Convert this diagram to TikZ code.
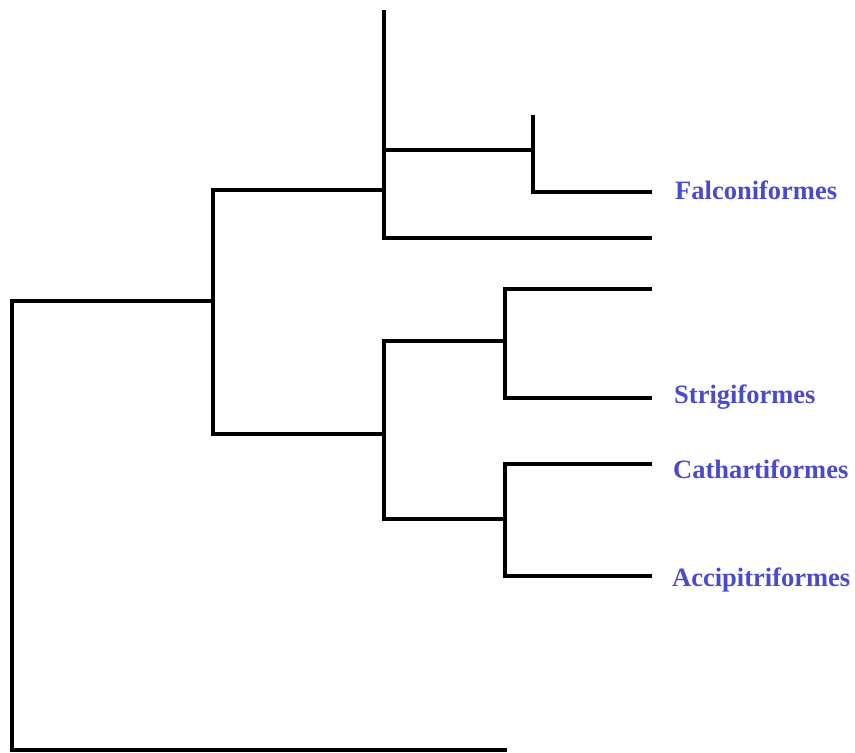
\documentclass[tikz,border=0pt]{standalone}
\usepackage{fontspec}
\setmainfont{Liberation Serif}
\definecolor{lbl}{HTML}{4A4ACC}
\begin{document}
\begin{tikzpicture}[x=1pt,y=-1pt,
  br/.style={line width=4.5pt,black,line join=miter},
  taxon/.style={anchor=west,inner sep=0pt,text=lbl,font=\fontsize{26.5}{30}\selectfont\bfseries}]
\useasboundingbox (0,0) rectangle (855,753);
% coordinates
\coordinate (root) at (12,301);
\coordinate (rootend) at (12,750);
\coordinate (outg) at (507,750);
\coordinate (n1) at (213,301);
\coordinate (a) at (384,190);
\coordinate (atop) at (384,10);
\coordinate (b) at (384,434);
\coordinate (c) at (533,150);
\coordinate (ctop) at (533,115);
\coordinate (d) at (505,341);
\coordinate (e) at (505,519);
\coordinate (t1) at (652,192);
\coordinate (t2) at (652,238);
\coordinate (t3) at (652,289);
\coordinate (t4) at (652,398);
\coordinate (t5) at (652,464);
\coordinate (t6) at (652,576);
% branches
\draw[br] (n1) -- (root) -- (rootend) -- (outg);
\draw[br] (a) -| (n1) |- (b);
\draw[br] (atop) -- (a) |- (t2);
\draw[br] (384,150) -- (c);
\draw[br] (ctop) -- (c) |- (t1);
\draw[br] (b) -- (384,341) -- (d);
\draw[br] (b) -- (384,519) -- (e);
\draw[br] (t3) -| (d) |- (t4);
\draw[br] (t5) -| (e) |- (t6);
% labels
\node[taxon] (falc) at (675,190) {Falconiformes};
\node[taxon] (strig) at (674,397) {Strigiformes};
\node[taxon] (cath) at (673,469) {Cathartiformes};
\node[taxon] (acci) at (672,580) {Accipitriformes};
\end{tikzpicture}
\end{document}
